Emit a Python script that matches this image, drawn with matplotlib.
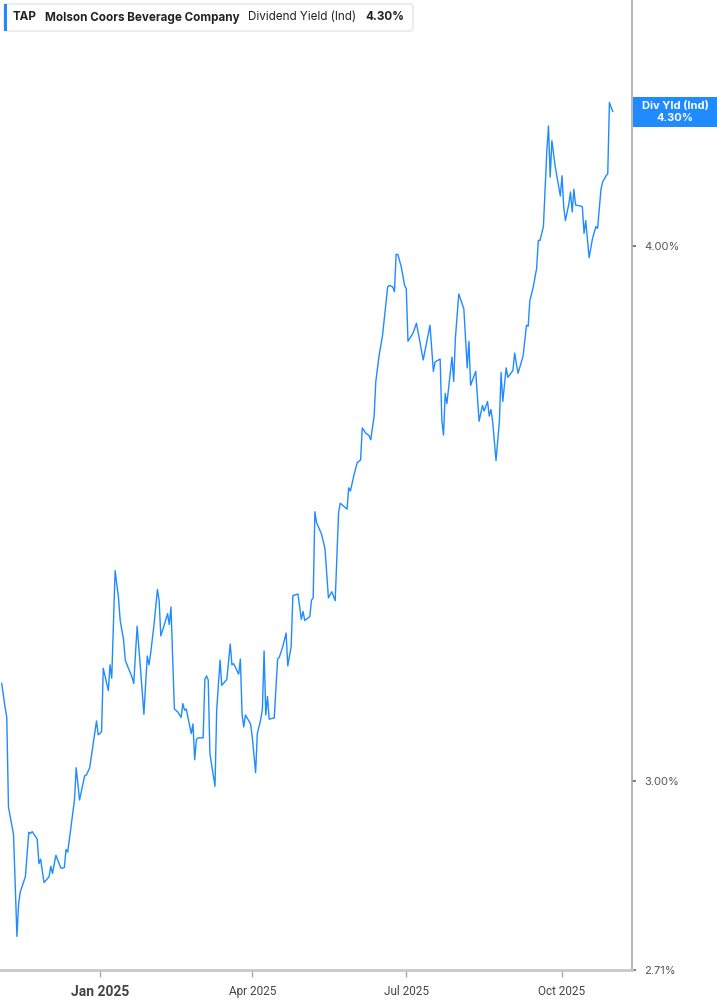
import matplotlib
matplotlib.use("Agg")
import matplotlib.pyplot as plt
import matplotlib.dates as mdates
from matplotlib.patches import Rectangle, FancyBboxPatch
from matplotlib.ticker import FixedLocator, NullLocator
import pandas as pd

# TAP dividend yield (Ind), in %
dates = [
    "2024-11-04", "2024-11-06", "2024-11-07", "2024-11-08", "2024-11-11", "2024-11-13",
    "2024-11-14", "2024-11-15", "2024-11-18", "2024-11-20", "2024-11-21", "2024-11-22",
    "2024-11-25", "2024-11-26", "2024-11-27", "2024-11-29", "2024-12-02", "2024-12-03",
    "2024-12-04", "2024-12-06", "2024-12-09", "2024-12-11", "2024-12-12", "2024-12-13",
    "2024-12-17", "2024-12-18", "2024-12-20", "2024-12-23", "2024-12-24", "2024-12-26",
    "2024-12-30", "2024-12-31", "2025-01-02", "2025-01-03", "2025-01-06", "2025-01-07",
    "2025-01-08", "2025-01-10", "2025-01-12", "2025-01-13", "2025-01-15", "2025-01-16",
    "2025-01-18", "2025-01-20", "2025-01-21", "2025-01-23", "2025-01-25", "2025-01-27",
    "2025-01-29", "2025-01-30", "2025-01-31", "2025-02-02", "2025-02-04", "2025-02-05",
    "2025-02-06", "2025-02-08", "2025-02-10", "2025-02-11", "2025-02-12", "2025-02-14",
    "2025-02-16", "2025-02-18", "2025-02-19", "2025-02-20", "2025-02-21", "2025-02-23",
    "2025-02-24", "2025-02-25", "2025-02-26", "2025-02-27", "2025-02-28", "2025-03-03",
    "2025-03-04", "2025-03-05", "2025-03-06", "2025-03-07", "2025-03-10", "2025-03-11",
    "2025-03-13", "2025-03-14", "2025-03-17", "2025-03-19", "2025-03-20", "2025-03-21",
    "2025-03-24", "2025-03-25", "2025-03-26", "2025-03-27", "2025-03-28", "2025-03-31",
    "2025-04-01", "2025-04-03", "2025-04-04", "2025-04-06", "2025-04-07", "2025-04-08",
    "2025-04-09", "2025-04-10", "2025-04-11", "2025-04-14", "2025-04-16", "2025-04-17",
    "2025-04-19", "2025-04-21", "2025-04-22", "2025-04-24", "2025-04-25", "2025-04-28",
    "2025-04-30", "2025-05-01", "2025-05-02", "2025-05-05", "2025-05-06", "2025-05-07",
    "2025-05-08", "2025-05-09", "2025-05-12", "2025-05-14", "2025-05-16", "2025-05-18",
    "2025-05-20", "2025-05-22", "2025-05-23", "2025-05-27", "2025-05-28", "2025-05-29",
    "2025-05-31", "2025-06-02", "2025-06-04", "2025-06-05", "2025-06-07", "2025-06-09",
    "2025-06-10", "2025-06-12", "2025-06-13", "2025-06-15", "2025-06-17", "2025-06-20",
    "2025-06-21", "2025-06-23", "2025-06-24", "2025-06-25", "2025-06-26", "2025-06-28",
    "2025-06-30", "2025-07-01", "2025-07-02", "2025-07-05", "2025-07-07", "2025-07-09",
    "2025-07-11", "2025-07-15", "2025-07-17", "2025-07-18", "2025-07-21", "2025-07-22",
    "2025-07-23", "2025-07-24", "2025-07-25", "2025-07-28", "2025-07-29", "2025-07-30",
    "2025-08-01", "2025-08-04", "2025-08-06", "2025-08-07", "2025-08-08", "2025-08-11",
    "2025-08-13", "2025-08-15", "2025-08-16", "2025-08-18", "2025-08-19", "2025-08-20",
    "2025-08-21", "2025-08-23", "2025-08-25", "2025-08-26", "2025-08-27", "2025-08-29",
    "2025-08-30", "2025-09-02", "2025-09-03", "2025-09-05", "2025-09-08", "2025-09-10",
    "2025-09-11", "2025-09-12", "2025-09-14", "2025-09-16", "2025-09-17", "2025-09-18",
    "2025-09-20", "2025-09-21", "2025-09-22", "2025-09-23", "2025-09-24", "2025-09-25",
    "2025-09-27", "2025-09-29", "2025-09-30", "2025-10-01", "2025-10-02", "2025-10-03",
    "2025-10-05", "2025-10-06", "2025-10-07", "2025-10-08", "2025-10-09", "2025-10-12",
    "2025-10-13", "2025-10-14", "2025-10-15", "2025-10-17", "2025-10-19", "2025-10-21",
    "2025-10-22", "2025-10-24", "2025-10-25", "2025-10-26", "2025-10-27", "2025-10-28",
    "2025-10-29", "2025-10-30", "2025-10-31",
]
div_yield = [
    3.161, 3.121, 3.104, 2.958, 2.914, 2.759, 2.808, 2.826, 2.849, 2.918, 2.916, 2.919,
    2.907, 2.869, 2.876, 2.840, 2.849, 2.865, 2.854, 2.882, 2.862, 2.863, 2.891, 2.887,
    2.969, 3.021, 2.969, 3.008, 3.009, 3.021, 3.098, 3.075, 3.080, 3.187, 3.149, 3.193,
    3.170, 3.359, 3.310, 3.270, 3.236, 3.201, 3.186, 3.172, 3.161, 3.260, 3.186, 3.109,
    3.208, 3.193, 3.213, 3.263, 3.325, 3.305, 3.243, 3.262, 3.282, 3.263, 3.294, 3.118,
    3.113, 3.104, 3.127, 3.116, 3.118, 3.091, 3.077, 3.093, 3.034, 3.067, 3.070, 3.070,
    3.168, 3.174, 3.167, 3.044, 2.991, 3.116, 3.201, 3.158, 3.168, 3.229, 3.193, 3.195,
    3.177, 3.203, 3.109, 3.088, 3.108, 3.093, 3.072, 3.013, 3.077, 3.100, 3.118, 3.217,
    3.108, 3.139, 3.101, 3.103, 3.203, 3.206, 3.224, 3.248, 3.191, 3.225, 3.314, 3.317,
    3.272, 3.286, 3.270, 3.277, 3.306, 3.310, 3.467, 3.447, 3.425, 3.398, 3.310, 3.321,
    3.305, 3.465, 3.483, 3.472, 3.512, 3.506, 3.535, 3.560, 3.565, 3.627, 3.617, 3.612,
    3.604, 3.650, 3.719, 3.772, 3.813, 3.913, 3.916, 3.913, 3.903, 3.982, 3.982, 3.956,
    3.916, 3.909, 3.800, 3.817, 3.837, 3.800, 3.762, 3.833, 3.739, 3.758, 3.764, 3.642,
    3.613, 3.695, 3.675, 3.768, 3.719, 3.806, 3.898, 3.867, 3.746, 3.800, 3.711, 3.739,
    3.640, 3.671, 3.660, 3.679, 3.650, 3.663, 3.640, 3.564, 3.640, 3.737, 3.679, 3.746,
    3.727, 3.741, 3.776, 3.735, 3.770, 3.833, 3.831, 3.884, 3.913, 3.952, 4.012, 4.012,
    4.042, 4.124, 4.208, 4.267, 4.151, 4.233, 4.174, 4.131, 4.109, 4.154, 4.085, 4.055,
    4.091, 4.118, 4.074, 4.124, 4.089, 4.087, 4.085, 4.027, 4.055, 3.975, 4.016, 4.042,
    4.038, 4.124, 4.140, 4.147, 4.154, 4.158, 4.321, 4.310, 4.30,
]
y_ticks = [2.71, 3.00, 4.00]
x_ticks = ["2025-01-01", "2025-04-01", "2025-07-01", "2025-10-01"]
x_labels = ["Jan 2025", "Apr 2025", "Jul 2025", "Oct 2025"]

ticker_name = "TAP"
company = "Molson Coors Beverage Company"
metric = "Dividend Yield (Ind)"
last_label = "4.30%"

blue = "#1f8bff"
axis_grey = "#a8a8a8"
text_grey = "#555555"

plt.rcParams["font.family"] = ["Inter", "DejaVu Sans"]

W, H = 717, 1005
fig = plt.figure(figsize=(W / 100, H / 100), dpi=100)
ax = fig.add_axes([0, 35 / H, 632 / W, 970 / H])

x = pd.to_datetime(dates)
ax.plot(x, div_yield, color=blue, lw=1.0)

ax.set_yscale("log")
ax.set_ylim(2.7095, 4.566)
ax.set_xlim(pd.Timestamp("2024-11-03"), pd.Timestamp("2025-11-11 08:00"))

ax.yaxis.tick_right()
ax.yaxis.set_major_locator(FixedLocator(y_ticks))
ax.yaxis.set_minor_locator(NullLocator())
ax.set_yticklabels([f"{v:.2f}%" for v in y_ticks])
ax.tick_params(axis="y", length=3, width=1.2, color="#666666", pad=6,
               labelsize=8, labelcolor=text_grey)

ax.set_xticks(pd.to_datetime(x_ticks))
ax.set_xticklabels(x_labels, family=["Roboto", "DejaVu Sans"])
ax.xaxis.set_minor_locator(NullLocator())
ax.tick_params(axis="x", length=5, width=1, color=axis_grey, pad=6,
               labelsize=8.5, labelcolor="#444444")
first = ax.get_xticklabels()[0]
first.set_fontweight("bold")
first.set_fontsize(10)

for s in ["top", "left"]:
    ax.spines[s].set_visible(False)
ax.spines["right"].set_color(axis_grey)
ax.spines["right"].set_linewidth(1.2)
ax.spines["bottom"].set_color("#c8c8c8")
ax.spines["bottom"].set_linewidth(2)

# legend box at top left
fig.add_artist(FancyBboxPatch((4 / W, 1 - 31 / H), 409 / W, 27 / H,
                              boxstyle="round,pad=0,rounding_size=0.004",
                              transform=fig.transFigure, facecolor="white",
                              edgecolor="#e4e4e4", lw=1))
fig.add_artist(Rectangle((4 / W, 1 - 31 / H), 3 / W, 27 / H,
                         transform=fig.transFigure, facecolor=blue, edgecolor="none"))
ty = 1 - 17.5 / H
fs = 8.4
fig.text(13 / W, ty, ticker_name, fontsize=fs, fontweight="bold", va="center", color="#222222")
fig.text(45 / W, ty, company, fontsize=fs, fontweight="bold", va="center", color="#222222")
fig.text(248 / W, ty, metric, fontsize=fs, va="center", color="#222222")
fig.text(365 / W, ty, last_label, fontsize=fs, fontweight="bold", va="center", color="#222222")

# last-value tag on the right axis
fig.canvas.draw()
y_disp = ax.transData.transform((mdates.date2num(x[-1]), div_yield[-1]))[1]
fig.add_artist(Rectangle((633 / W, (y_disp - 15) / H), 84 / W, 30 / H,
                         transform=fig.transFigure, facecolor=blue, edgecolor="none"))
fig.text(675 / W, (y_disp + 6) / H, "Div Yld (Ind)", fontsize=8, fontweight="bold",
         color="white", ha="center", va="center")
fig.text(675 / W, (y_disp - 6) / H, f"{div_yield[-1]:.2f}%", fontsize=8, fontweight="bold",
         color="white", ha="center", va="center")

fig.savefig("out.png", dpi=100)
